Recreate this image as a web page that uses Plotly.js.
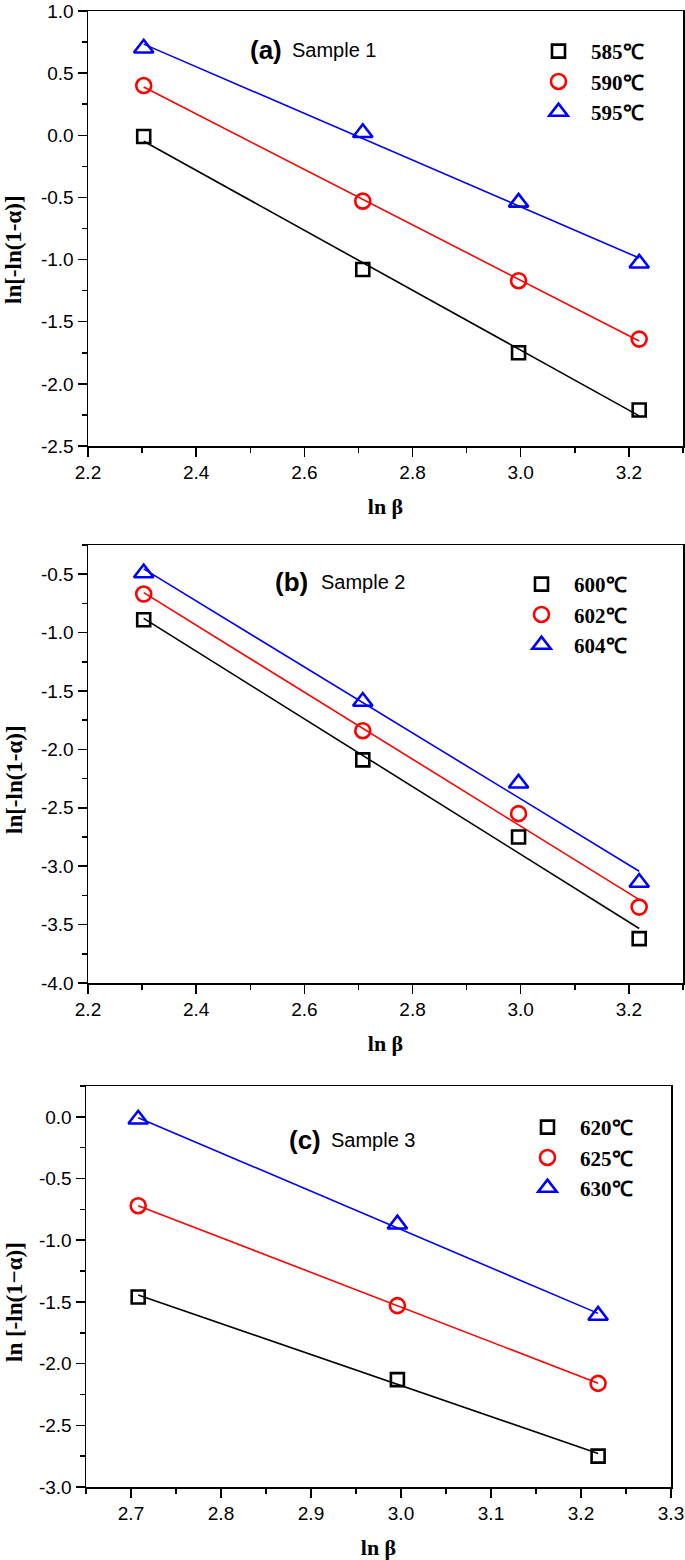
<!DOCTYPE html>
<html>
<head>
<meta charset="utf-8">
<script src="https://cdn.plot.ly/plotly-3.0.1.min.js"></script>
<style>html,body{margin:0;padding:0;background:#fff;}#chart{width:685px;height:1560px;}</style>
</head>
<body>
<div id="chart"></div>
<script>
// ---------- data ----------
const lnBetaAB = [2.303, 2.708, 2.996, 3.219];
const lnBetaC = [2.708, 2.996, 3.219];

const namesA = ['585℃', '590℃', '595℃'];
const a585 = [-0.01, -1.08, -1.75, -2.21];
const a590 = [0.40, -0.53, -1.17, -1.64];
const a595 = [0.70, 0.02, -0.54, -1.03];

const namesB = ['600℃', '602℃', '604℃'];
const b600 = [-0.89, -2.09, -2.75, -3.62];
const b602 = [-0.67, -1.84, -2.55, -3.35];
const b604 = [-0.49, -1.59, -2.29, -3.14];

const namesC = ['620℃', '625℃', '630℃'];
const c620 = [-1.46, -2.13, -2.75];
const c625 = [-0.72, -1.53, -2.16];
const c630 = [-0.02, -0.87, -1.61];

// tick labels
const xTicksAB = [2.2, 2.4, 2.6, 2.8, 3.0, 3.2];
const xTicksC = [2.7, 2.8, 2.9, 3.0, 3.1, 3.2, 3.3];
const yTicksA = [-2.5, -2.0, -1.5, -1.0, -0.5, 0.0, 0.5, 1.0];
const yTicksB = [-4.0, -3.5, -3.0, -2.5, -2.0, -1.5, -1.0, -0.5];
const yTicksC = [-3.0, -2.5, -2.0, -1.5, -1.0, -0.5, 0.0];

const panelLabels = ['(a)', '(b)', '(c)'];
const sampleLabels = ['Sample 1', 'Sample 2', 'Sample 3'];
const xTitle = 'ln β';
const yTitles = ['ln[-ln(1-α)]', 'ln[-ln(1-α)]', 'ln [-ln(1−α)]'];

// ---------- helpers ----------
const colors = ['#000000', '#ff0000', '#0000ff'];
const symbols = ['square-open', 'circle-open', 'triangle-up-open'];
const msize = [13, 15, 17];

function linfit(x, y) {
  const n = x.length;
  const mx = x.reduce((s, v) => s + v, 0) / n;
  const my = y.reduce((s, v) => s + v, 0) / n;
  let sxy = 0, sxx = 0;
  for (let i = 0; i < n; i++) { sxy += (x[i] - mx) * (y[i] - my); sxx += (x[i] - mx) ** 2; }
  const k = sxy / sxx, b = my - k * mx;
  const xs = [Math.min(...x), Math.max(...x)];
  return { x: xs, y: xs.map(v => k * v + b) };
}

const traces = [];
function addPanel(x, ys, names, xa, ya, legendId) {
  ys.forEach((y, i) => {
    const f = linfit(x, y);
    traces.push({ x: f.x, y: f.y, mode: 'lines', line: { color: colors[i], width: 1.6 },
      xaxis: xa, yaxis: ya, showlegend: false, hoverinfo: 'skip' });
  });
  ys.forEach((y, i) => {
    traces.push({ x: x, y: y, mode: 'markers', name: names[i], legend: legendId,
      marker: { symbol: symbols[i], size: msize[i], color: colors[i], line: { color: colors[i], width: 2.6 } },
      xaxis: xa, yaxis: ya });
  });
}
addPanel(lnBetaAB, [a585, a590, a595], namesA, 'x', 'y', 'legend');
addPanel(lnBetaAB, [b600, b602, b604], namesB, 'x2', 'y2', 'legend2');
addPanel(lnBetaC, [c620, c625, c630], namesC, 'x3', 'y3', 'legend3');

// ---------- layout ----------
const W = 685, H = 1560;
const tickFont = { family: 'Liberation Sans, Arial, sans-serif', size: 19, color: '#000' };
const titleFont = { family: 'Liberation Serif, Times New Roman, serif', size: 22, color: '#000', weight: 'bold' };
const yTitleFont = { family: 'Liberation Serif, Times New Roman, serif', size: 23, color: '#000', weight: 'bold' };
const px = v => v / W;
const py = v => 1 - v / H;
const lbl = vals => vals.map(v => v.toFixed(1));

function xAxis(range, ticks, minorDtick, dom, anchor, title) {
  return { domain: [px(dom[0]), px(dom[1])], anchor: anchor, range: range,
    tickmode: 'array', tickvals: ticks, ticktext: lbl(ticks), ticklabeloverflow: 'allow',
    showgrid: false, zeroline: false, showline: true, mirror: true, linecolor: '#000', linewidth: 1.5,
    ticks: 'outside', ticklen: 9, tickwidth: 1.5, tickcolor: '#000',
    minor: { tickmode: 'linear', tick0: 0, dtick: minorDtick, ticks: 'outside', ticklen: 5, tickwidth: 1.5, tickcolor: '#000', showgrid: false },
    tickfont: tickFont, title: { text: title, font: titleFont, standoff: 16 } };
}
function yAxis(range, ticks, dom, anchor) {
  return { domain: [py(dom[1]), py(dom[0])], anchor: anchor, range: range,
    tickmode: 'array', tickvals: ticks, ticktext: lbl(ticks), ticklabeloverflow: 'allow',
    showgrid: false, zeroline: false, showline: true, mirror: true, linecolor: '#000', linewidth: 1.5,
    ticks: 'outside', ticklen: 9, tickwidth: 1.5, tickcolor: '#000',
    minor: { tickmode: 'linear', tick0: 0, dtick: 0.25, ticks: 'outside', ticklen: 5, tickwidth: 1.5, tickcolor: '#000', showgrid: false },
    tickfont: tickFont };
}
function xOver(base, range, dtick, minorDtick, anchor) {
  return { overlaying: base, side: 'top', anchor: anchor, range: range, dtick: dtick, tick0: 0,
    showgrid: false, zeroline: false, showline: false, showticklabels: false,
    ticks: 'inside', ticklen: 9, tickwidth: 1.5, tickcolor: '#000',
    minor: { dtick: minorDtick, ticks: 'inside', ticklen: 5, tickwidth: 1.5, tickcolor: '#000', showgrid: false } };
}
function yOver(base, range, anchor) {
  return { overlaying: base, side: 'right', anchor: anchor, range: range, dtick: 0.5, tick0: 0,
    showgrid: false, zeroline: false, showline: false, showticklabels: false,
    ticks: 'inside', ticklen: 9, tickwidth: 1.5, tickcolor: '#000',
    minor: { dtick: 0.25, ticks: 'inside', ticklen: 5, tickwidth: 1.5, tickcolor: '#000', showgrid: false } };
}

const rxA = [2.2, 3.3], ryA = [-2.5, 1.0];
const rxB = [2.2, 3.3], ryB = [-4.0, -0.25];
const rxC = [2.65, 3.3], ryC = [-3.0, 0.25];

const legFont = { family: 'Liberation Serif, Times New Roman, serif', size: 21, color: '#000', weight: 'bold' };
function legend(xp, yp) {
  return { x: px(xp), y: py(yp), xanchor: 'left', yanchor: 'top', bgcolor: 'rgba(0,0,0,0)',
    borderwidth: 0, font: legFont, itemwidth: 55, tracegroupgap: 0, itemclick: false };
}

function label(xp, yp, txt, font) {
  return { xref: 'paper', yref: 'paper', x: px(xp), y: py(yp), xanchor: 'left', yanchor: 'middle',
    text: txt, showarrow: false, font: font };
}
function yLabel(yp, txt) {
  return { xref: 'paper', yref: 'paper', x: px(14), y: py(yp), xanchor: 'center', yanchor: 'middle',
    text: txt, textangle: -90, showarrow: false, font: yTitleFont };
}
const panelFont = { family: 'Liberation Sans, Arial, sans-serif', size: 26, color: '#000', weight: 'bold' };
const sampleFont = { family: 'Liberation Sans, Arial, sans-serif', size: 20, color: '#000' };

const layout = {
  width: W, height: H, autosize: false,
  margin: { l: 0, r: 0, t: 0, b: 0 },
  paper_bgcolor: '#fff', plot_bgcolor: '#fff',
  xaxis: xAxis(rxA, xTicksAB, 0.1, [88, 683], 'y', xTitle),
  yaxis: yAxis(ryA, yTicksA, [11, 446], 'x'),
  xaxis2: xAxis(rxB, xTicksAB, 0.1, [88, 683], 'y2', xTitle),
  yaxis2: yAxis(ryB, yTicksB, [545, 983], 'x2'),
  xaxis3: xAxis(rxC, xTicksC, 0.05, [86, 671], 'y3', xTitle),
  yaxis3: yAxis(ryC, yTicksC, [1086, 1487], 'x3'),
  xaxis4: xOver('x', rxA, 0.2, 0.1, 'y'),
  yaxis4: yOver('y', ryA, 'x'),
  xaxis5: xOver('x2', rxB, 0.2, 0.1, 'y2'),
  yaxis5: yOver('y2', ryB, 'x2'),
  xaxis6: xOver('x3', rxC, 0.1, 0.05, 'y3'),
  yaxis6: yOver('y3', ryC, 'x3'),
  legend: legend(526, 31),
  legend2: legend(509, 564),
  legend3: legend(515, 1107),
  annotations: [
    label(248, 50, panelLabels[0], panelFont), label(290, 50, sampleLabels[0], sampleFont),
    label(273, 582, panelLabels[1], panelFont), label(319, 582, sampleLabels[1], sampleFont),
    label(287, 1140, panelLabels[2], panelFont), label(329, 1140, sampleLabels[2], sampleFont),
    yLabel(250, yTitles[0]), yLabel(780, yTitles[1]), yLabel(1302, yTitles[2])
  ],
  showlegend: true
};

Plotly.newPlot('chart', traces, layout, { displayModeBar: false, staticPlot: true });
</script>
</body>
</html>
